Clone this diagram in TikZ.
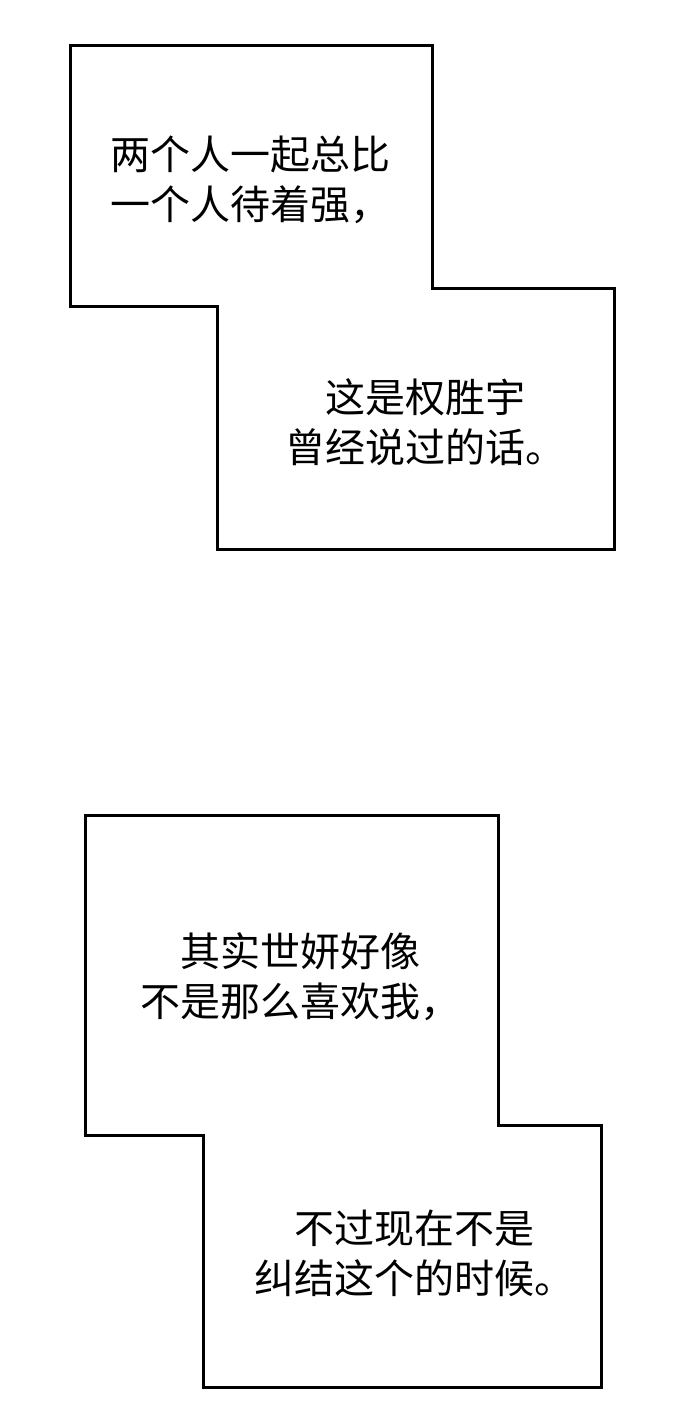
\documentclass[tikz,border=0pt]{standalone}
\usepackage{fontspec}
\newfontfamily\cjk{Noto Sans CJK SC}
\begin{document}
\begin{tikzpicture}[x=1pt,y=-1pt,
  box/.style={draw=black,line width=3pt,line join=miter,fill=white},
  txt/.style={font=\cjk\fontsize{40}{50}\selectfont,inner sep=0pt}]
\useasboundingbox (0,0) rectangle (690,1416);
\draw[box] (70,45)--(432,45)--(432,288)--(614,288)--(614,549)--(217,549)--(217,306)--(70,306)--cycle;
\node[txt,align=left,anchor=west] (t1) at (110,180) {两个人一起总比\\一个人待着强，};
\node[txt,align=center] (t2) at (425,422) {这是权胜宇\\曾经说过的话。};
\draw[box] (85,815)--(498,815)--(498,1125)--(601,1125)--(601,1387)--(203,1387)--(203,1135)--(85,1135)--cycle;
\node[txt,align=center] (t3) at (300,977) {其实世妍好像\\不是那么喜欢我，};
\node[txt,align=center] (t4) at (414,1253) {不过现在不是\\纠结这个的时候。};
\end{tikzpicture}
\end{document}
